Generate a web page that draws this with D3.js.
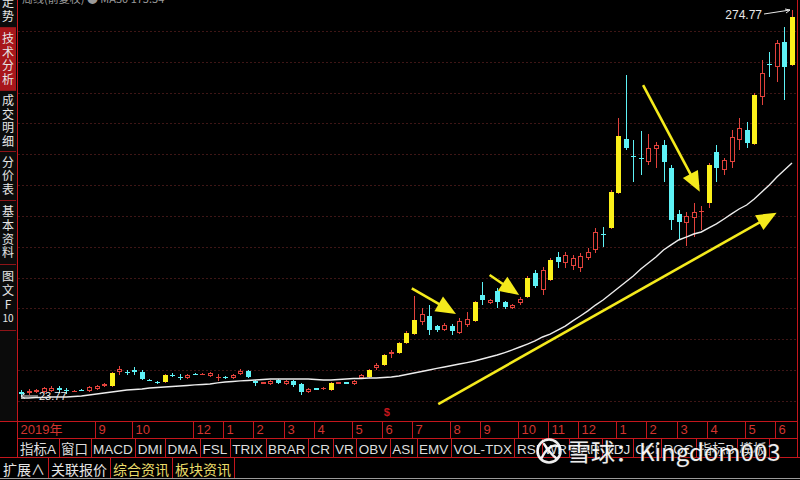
<!DOCTYPE html>
<html><head><meta charset="utf-8">
<script src="https://cdn.jsdelivr.net/npm/d3@7"></script>
<style>html,body{margin:0;padding:0;background:#000;}svg{display:block}</style>
</head><body>
<svg id="c" width="800" height="480"></svg>
<script>
// ---------- DATA (weekly candles, forward-adjusted prices) ----------
const openP  = [27.0,26.4,27.0,27.0,27.7,29.6,28.3,27.3,28.3,27.7,29.0,30.9,30.9,40.0,40.0,41.0,40.0,35.1,33.8,33.5,
                38.3,37.0,36.1,39.0,38.3,37.4,36.1,36.7,36.1,38.7,40.6,34.1,32.5,32.2,34.8,32.2,34.1,32.2,27.0,29.3,
                29.0,28.3,32.5,33.2,32.2,36.1,36.7,42.6,44.5,51.6,52.3,58.8,64.6,72.4,76.3,69.8,67.2,69.8,65.3,70.5,
                73.1,89.9,84.7,92.5,85.4,81.5,84.7,88.6,104.2,93.2,99.7,114.6,110.7,108.7,107.4,113.9,119.1,129.8,133.4,156.1,
                191.1,180.4,179.1,176.2,184.6,187.2,172.3,142.5,136.6,139.9,143.8,149.6,182.7,171.0,176.2,190.5,196.9,187.9,218.3,239.8,
                237.8,254.0,239.1];
const highP  = [28.3,29.0,29.0,30.3,30.9,30.9,29.6,28.3,29.0,30.9,31.6,32.9,40.0,43.9,41.3,43.2,41.3,35.4,34.1,38.7,
                39.3,38.7,38.7,39.3,39.3,40.0,38.7,37.4,38.7,41.9,41.3,34.8,33.5,34.8,35.4,34.8,34.8,32.9,29.6,29.6,
                30.3,33.5,33.5,33.5,34.8,38.7,41.9,45.8,51.6,54.2,59.4,66.6,89.0,81.5,83.4,70.5,71.8,71.1,75.0,78.9,
                86.0,98.3,87.3,94.5,86.0,84.1,88.6,102.2,106.1,108.1,113.9,117.8,117.8,115.9,117.2,120.4,133.4,134.0,158.0,204.7,
                232.6,190.5,196.3,194.4,189.2,190.5,174.2,145.1,143.8,149.6,147.6,175.5,187.2,178.8,196.9,204.7,202.1,220.9,242.3,247.5,
                255.3,263.7,274.77];
const lowP   = [23.77,25.1,26.4,26.4,27.0,26.4,25.7,27.0,27.7,27.0,28.3,30.3,30.3,38.0,38.0,38.0,34.7,33.9,32.5,32.9,
                36.7,34.8,35.4,38.0,38.0,36.7,34.1,35.4,35.4,38.0,36.1,30.9,32.2,31.6,32.2,31.6,30.3,25.1,26.4,28.3,
                28.3,27.7,32.2,32.2,31.6,35.4,36.1,41.3,43.9,49.1,51.6,58.1,64.0,70.5,64.0,65.9,66.6,64.0,64.6,69.2,
                72.4,83.4,84.1,81.5,80.8,80.8,83.4,88.0,94.5,89.9,99.0,107.4,107.4,106.1,104.8,112.6,117.2,121.1,132.7,155.4,
                184.0,163.2,167.8,174.2,172.3,163.2,132.1,125.6,121.7,127.5,132.1,146.4,163.2,167.8,172.3,184.0,185.3,187.2,213.2,231.3,
                228.1,216.4,238.5];
const closeP = [25.7,27.7,28.3,29.6,29.6,28.3,27.7,27.7,28.0,30.3,30.9,32.2,39.3,41.9,39.3,40.3,35.4,34.5,33.2,38.0,
                37.7,36.4,38.0,38.3,39.0,39.3,36.7,36.1,38.0,40.6,36.7,32.8,33.2,34.1,32.8,34.1,31.6,27.0,29.0,28.6,
                29.6,32.9,33.2,32.5,34.1,38.0,41.3,44.5,51.0,52.9,58.8,65.3,73.7,77.6,67.2,67.2,70.5,66.6,73.1,74.4,
                85.4,86.7,86.7,85.4,82.1,83.4,87.3,100.9,95.7,106.1,112.6,111.3,115.9,113.9,115.2,117.8,130.8,129.1,156.7,193.0,
                185.3,179.8,178.5,185.3,187.2,176.2,138.6,137.3,141.2,143.8,144.4,174.2,172.3,177.5,192.4,198.2,188.5,219.6,233.9,239.1,
                253.4,237.8,270.2];
// weeks drawn as highlighted (yellow) rising candles
const yellowWeeks = [12,19,41,46,48,50,51,52,60,67,70,78,79,91,97,102];
// moving-average line (white)
const maValues = [23.1,23.1,23.4,23.4,23.8,23.8,23.8,24.1,24.4,25.1,25.7,26.4,27.0,27.7,28.3,28.6,29.0,29.6,29.9,30.3,
                  30.6,30.9,31.2,31.6,31.9,32.2,32.9,33.5,33.8,34.2,34.5,34.8,35.1,35.4,35.4,35.4,35.4,35.4,35.4,35.1,
                  34.8,34.8,35.1,35.4,35.8,35.8,36.1,36.1,36.4,36.7,37.4,38.4,39.3,40.3,41.3,42.3,43.2,44.2,45.2,46.1,
                  47.1,48.4,49.7,51.0,52.6,54.3,56.2,58.1,60.1,62.7,64.6,67.2,69.8,73.1,76.3,79.6,83.4,86.7,90.6,94.5,
                  98.4,102.2,106.8,110.7,114.6,119.1,122.4,125.6,127.5,129.5,130.8,133.4,136.0,139.2,142.5,145.7,148.3,152.2,156.7,161.3,
                  166.5,171.0,175.5];
// time axis
const monthLabels = ["2019年","9","10","12","1","2","3","4","5","6","7","8","9","10","11","12","1","2","3","4","5","6"];
const monthStarts = [0,10,15,23,27,31,35,39,44,48,52,57,61,66,70,74,79,83,87,91,96,100];
const lowMark = 23.77, highMark = 274.77;
const dividendWeek = 48;
// annotation arrows: [fromWeek, fromPrice, toWeek, toPrice]
const arrowsFrom = [[51.7,94.3],[62.0,102.9],[82.3,226.1],[55.2,19.2]];
const arrowsTo   = [[57.55,77.6],[65.9,89.9],[89.8,156.9],[99.97,143.3]];
// UI texts
const sideTabs = ["走势","技术分析","成交明细","分价表","基本资料","图文F10"];
const indicatorTabs = ["指标A","窗口","MACD","DMI","DMA","FSL","TRIX","BRAR","CR","VR","OBV","ASI","EMV","VOL-TDX","RSI","WR","SAR","KDJ","CCI","ROC","指标B","模板"];
const bottomTabs = ["扩展∧","关联报价","综合资讯","板块资讯"];
const yellowTabs = ["综合资讯","板块资讯"];
const titleText = "周线(前复权)  ● MA30  175.54";
const watermark = "雪球：Kingdom003";

// ---------- DRAW ----------
const svg = d3.select("#c");
const RED = "#c4161c", CANDLE_RED = "#e2423c", CYAN = "#5ef2f6", YEL = "#fbf01a", ARROW_YEL = "#f4ea1c";
const fontUI = "'Liberation Sans','Noto Sans CJK SC',sans-serif";
const fontCJK = "'Noto Sans CJK SC',sans-serif";
const n = openP.length;

svg.append("rect").attr("width",800).attr("height",480).attr("fill","#000");

const x = d3.scaleBand().domain(d3.range(n)).range([17.22, 795.78]).paddingInner(0.3).paddingOuter(0.15);
const cx = i => x(i) + x.bandwidth()/2;
const xi = d3.scaleLinear().domain([0, n-1]).range([cx(0), cx(n-1)]);
const y = d3.scaleLinear().domain([lowMark, highMark]).range([397, 10]);

const plotL = 17.5, plotR = 797.5, axisTop = 421.5, axisMid = 438.5, axisBot = 457.5;

// dotted horizontal grid
const gridLevels = d3.range(13).map(k => 21.2 + 20*k);
svg.append("g").selectAll("line").data(gridLevels).join("line")
  .attr("x1", plotL+1).attr("x2", plotR-1)
  .attr("y1", d => Math.round(y(d))+0.5).attr("y2", d => Math.round(y(d))+0.5)
  .attr("stroke", "#7c2c2c").attr("stroke-width",1).attr("stroke-dasharray","1,3");

// title (cut at top edge)
svg.append("text").attr("x",22).attr("y",3).attr("fill","#9a9a9a")
  .style("font",`11px ${fontCJK}`).text(titleText);

// candles
const ySet = new Set(yellowWeeks);
const data = openP.map((o,i)=>({i,o,h:highP[i],l:lowP[i],c:closeP[i],
  up: closeP[i] >= o, yel: ySet.has(i)}));
const bodyW = Math.round(x.bandwidth());
const gC = svg.append("g");
data.forEach(d => {
  const px = Math.round(cx(d.i));
  const top = Math.round(y(Math.max(d.o,d.c)));
  let bot = Math.round(y(Math.min(d.o,d.c)));
  if (bot - top < 1) bot = top + 1;
  const yh = Math.round(y(d.h)), yl = Math.round(y(d.l));
  const wickCol = d.up ? CANDLE_RED : CYAN;
  if (d.up && !d.yel) {
    if (yh < top) gC.append("line").attr("x1",px+0.5).attr("x2",px+0.5).attr("y1",yh).attr("y2",top).attr("stroke",wickCol);
    if (yl > bot) gC.append("line").attr("x1",px+0.5).attr("x2",px+0.5).attr("y1",bot).attr("y2",yl).attr("stroke",wickCol);
    if (bot - top <= 1) {
      gC.append("rect").attr("x",px-2).attr("y",top).attr("width",bodyW).attr("height",1).attr("fill",CANDLE_RED);
    } else {
      gC.append("rect").attr("x",px-2+0.5).attr("y",top+0.5).attr("width",bodyW-1).attr("height",bot-top-1)
        .attr("fill","#000").attr("stroke",CANDLE_RED).attr("stroke-width",1);
    }
  } else {
    gC.append("line").attr("x1",px+0.5).attr("x2",px+0.5).attr("y1",yh).attr("y2",yl).attr("stroke",wickCol);
    gC.append("rect").attr("x",px-2).attr("y",top).attr("width",bodyW).attr("height",bot-top)
      .attr("fill", d.yel ? YEL : CYAN);
  }
});

// moving average line
svg.append("path").datum(maValues)
  .attr("d", d3.line().x((v,i)=>cx(i)).y(v=>y(v)))
  .attr("fill","none").attr("stroke","#ececec").attr("stroke-width",1.4);

// high / low marks
const lx = cx(0), ly = y(lowMark) - 1;
svg.append("line").attr("x1",lx+17).attr("x2",lx).attr("y1",ly).attr("y2",ly).attr("stroke","#e8e8e8").attr("stroke-width",1);
svg.append("path").attr("d",`M${lx},${ly} l4,-2.5 M${lx},${ly} l4,2.5`).attr("stroke","#e8e8e8").attr("fill","none");
svg.append("text").attr("x",lx+18).attr("y",ly+4).attr("fill","#e8e8e8").style("font",`11px ${fontUI}`).text(lowMark.toFixed(2));
const hx = cx(n-1) - 2, hy = y(highMark);
svg.append("line").attr("x1",hx-26).attr("y1",hy+4).attr("x2",hx).attr("y2",hy).attr("stroke","#e8e8e8");
svg.append("path").attr("d",`M${hx},${hy} l-5,-1 M${hx},${hy} l-4,3`).attr("stroke","#e8e8e8").attr("fill","none");
svg.append("text").attr("x",hx-28).attr("y",hy+9).attr("text-anchor","end").attr("fill","#e8e8e8")
  .style("font",`12px ${fontUI}`).text(highMark.toFixed(2));

// dividend marker
svg.append("text").attr("x",cx(dividendWeek)+3).attr("y",416).attr("text-anchor","middle").attr("fill",RED)
  .style("font",`bold 11px ${fontUI}`).text("$");

// annotation arrows
const gA = svg.append("g");
arrowsFrom.forEach((f,k) => {
  const t = arrowsTo[k];
  const x1 = xi(f[0]), y1 = y(f[1]), x2 = xi(t[0]), y2 = y(t[1]);
  const ang = Math.atan2(y2-y1, x2-x1);
  const L = 20, Wd = 8.5;
  const bx = x2 - L*Math.cos(ang), by = y2 - L*Math.sin(ang);
  gA.append("line").attr("x1",x1).attr("y1",y1).attr("x2",bx+3*Math.cos(ang)).attr("y2",by+3*Math.sin(ang))
    .attr("stroke",ARROW_YEL).attr("stroke-width",2.6);
  const p1 = [bx - Wd*Math.sin(ang), by + Wd*Math.cos(ang)];
  const p2 = [bx + Wd*Math.sin(ang), by - Wd*Math.cos(ang)];
  gA.append("polygon").attr("points",[[x2,y2],p1,p2].map(p=>p.join(",")).join(" ")).attr("fill",ARROW_YEL);
});

// ---------- frame & sidebar ----------
const sideBounds = [[-8,27],[28,90],[91,151],[152,200],[201,264],[265,330]];
const gS = svg.append("g");
gS.append("rect").attr("x",0).attr("y",0).attr("width",17).attr("height",421).attr("fill","#0b0b0b");
sideTabs.forEach((t,k) => {
  const [a,b] = sideBounds[k];
  gS.append("rect").attr("x",0).attr("y",Math.max(a,0)).attr("width",16).attr("height",b-Math.max(a,0))
    .attr("fill", k===1 ? "#a8161b" : "#0b0b0b");
  gS.append("line").attr("x1",0).attr("x2",16).attr("y1",b+0.5).attr("y2",b+0.5).attr("stroke","#8e1418");
  const chars = t.match(/10|./g);
  const h = 13.6, start = (a+b)/2 - (chars.length-1)*h/2;
  chars.forEach((ch,j) => {
    gS.append("text").attr("x",8).attr("y",start + j*h).attr("dy","0.36em").attr("text-anchor","middle")
      .attr("fill","#e6e6e6").style("font",`${ch==="10"?10:12}px ${fontCJK}`).text(ch);
  });
});

const gF = svg.append("g").attr("stroke",RED).attr("stroke-width",1);
gF.append("line").attr("x1",plotL).attr("x2",plotL).attr("y1",0).attr("y2",axisBot);
gF.append("line").attr("x1",plotR).attr("x2",plotR).attr("y1",0).attr("y2",axisBot);
gF.append("line").attr("x1",0).attr("x2",plotR).attr("y1",axisTop).attr("y2",axisTop);
gF.append("line").attr("x1",plotL).attr("x2",plotR).attr("y1",axisMid).attr("y2",axisMid);
gF.append("line").attr("x1",0).attr("x2",800).attr("y1",axisBot).attr("y2",axisBot);

// date axis
const gD = svg.append("g");
monthLabels.forEach((lab,k) => {
  const idx = monthStarts[k];
  const lxp = k===0 ? plotL : Math.round(cx(idx) - 2) + 0.5;
  if (k>0) gD.append("line").attr("x1",lxp).attr("x2",lxp).attr("y1",axisTop).attr("y2",axisMid).attr("stroke",RED);
  gD.append("text").attr("x",lxp+3).attr("y",434).attr("fill","#d2352f")
    .style("font",`13px ${fontUI}`).text(lab);
});

// indicator buttons
const gB = svg.append("g");
let bx0 = plotL;
indicatorTabs.forEach(t => {
  const tx = gB.append("text").attr("x",bx0+2.5).attr("y",454).attr("fill","#dedede")
    .style("font",`13.5px ${fontUI}`).text(t);
  const w = tx.node().getComputedTextLength();
  bx0 = bx0 + w + 5;
  if (bx0 < plotR - 2) gB.append("line").attr("x1",Math.round(bx0)+0.5).attr("x2",Math.round(bx0)+0.5)
    .attr("y1",axisMid).attr("y2",axisBot).attr("stroke",RED);
});

// bottom tabs
const gT = svg.append("g");
let tx0 = 0;
bottomTabs.forEach(t => {
  const tx = gT.append("text").attr("x",tx0+3).attr("y",475)
    .attr("fill", yellowTabs.includes(t) ? "#e9dc6a" : "#e6e6e6")
    .style("font",`14px ${fontCJK}`).text(t);
  const w = tx.node().getComputedTextLength();
  tx0 = tx0 + w + 6;
  gT.append("line").attr("x1",Math.round(tx0)+0.5).attr("x2",Math.round(tx0)+0.5)
    .attr("y1",axisBot).attr("y2",478).attr("stroke",RED);
});
svg.append("line").attr("x1",0).attr("x2",800).attr("y1",478.5).attr("y2",478.5).attr("stroke","#9a9a9a");

// watermark
const gW = svg.append("g").attr("opacity",0.93);
gW.append("circle").attr("cx",549).attr("cy",451).attr("r",11.5).attr("fill","none")
  .attr("stroke","#fff").attr("stroke-width",2.6);
gW.append("path").attr("d","M541,459 C546,449 552,444 558,446 M544,444 C548,450 552,455 556,458")
  .attr("fill","none").attr("stroke","#fff").attr("stroke-width",2.4).attr("stroke-linecap","round");
gW.append("text").attr("x",567).attr("y",461).attr("fill","#fff")
  .attr("stroke","#222").attr("stroke-width",1).attr("paint-order","stroke")
  .style("font",`24px ${fontCJK}`).text(watermark);
</script>
</body></html>
